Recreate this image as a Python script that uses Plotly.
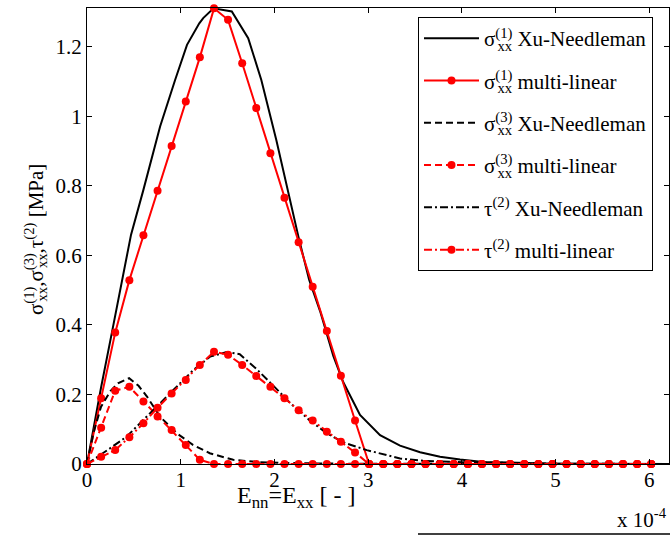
import plotly.graph_objects as go

# ---------------- data (strain in units of 1e-4, stress in MPa) ----------------
x_ml = [0.000, 0.151, 0.301, 0.452, 0.602, 0.753, 0.903, 1.054, 1.204, 1.355,
        1.505, 1.656, 1.806, 1.957, 2.107, 2.258, 2.408, 2.559, 2.709, 2.860,
        3.010, 3.161, 3.311, 3.462, 3.612, 3.763, 3.913, 4.064, 4.214, 4.365,
        4.515, 4.666, 4.816, 4.967, 5.117, 5.268, 5.418, 5.569, 5.719, 5.870, 6.020]

s1_ml = [0, 0.189, 0.378, 0.529, 0.658, 0.786, 0.915, 1.043, 1.170, 1.311,
         1.278, 1.153, 1.024, 0.894, 0.766, 0.638, 0.510, 0.383, 0.254, 0.125,
         0, 0, 0, 0, 0, 0, 0, 0, 0, 0,
         0, 0, 0, 0, 0, 0, 0, 0, 0, 0, 0]

s3_ml = [0, 0.104, 0.211, 0.222, 0.180, 0.137, 0.098, 0.055, 0.012, 0,
         0, 0, 0, 0, 0, 0, 0, 0, 0, 0,
         0, 0, 0, 0, 0, 0, 0, 0, 0, 0,
         0, 0, 0, 0, 0, 0, 0, 0, 0, 0, 0]

t2_ml = [0, 0.021, 0.040, 0.077, 0.117, 0.162, 0.203, 0.242, 0.285, 0.323,
         0.314, 0.285, 0.253, 0.222, 0.189, 0.155, 0.125, 0.093, 0.064, 0.033,
         0, 0, 0, 0, 0, 0, 0, 0, 0, 0,
         0, 0, 0, 0, 0, 0, 0, 0, 0, 0, 0]

x_s1_xn = [0, 0.066, 0.15, 0.264, 0.36, 0.47, 0.601, 0.78, 0.94, 1.067, 1.198,
           1.24, 1.35, 1.545, 1.72, 1.86, 2.02, 2.13, 2.255, 2.37, 2.487, 2.629,
           2.735, 2.913, 3.127, 3.34, 3.554, 3.767, 3.98, 4.226, 4.6, 5.0, 5.5, 6.21]
s1_xn = [0, 0.098, 0.22, 0.376, 0.51, 0.66, 0.788, 0.971, 1.105, 1.206, 1.268,
         1.283, 1.311, 1.302, 1.225, 1.105, 0.932, 0.798, 0.655, 0.53, 0.44, 0.31,
         0.235, 0.141, 0.083, 0.053, 0.034, 0.021, 0.013, 0.006, 0.003, 0.001, 0.0005, 0]

x_s3_xn = [0, 0.07, 0.15, 0.25, 0.33, 0.45, 0.55, 0.64, 0.78, 0.96, 1.13, 1.31,
           1.56, 1.85, 2.3, 3.0, 6.21]
s3_xn = [0, 0.09, 0.165, 0.21, 0.232, 0.247, 0.225, 0.194, 0.136, 0.088, 0.055,
         0.031, 0.012, 0.005, 0.002, 0.0005, 0]

x_t2_xn = [0, 0.067, 0.245, 0.424, 0.601, 0.779, 0.957, 1.134, 1.313, 1.49, 1.63,
           1.81, 2.0, 2.17, 2.37, 2.55, 2.735, 2.985, 3.34, 3.6, 4.0, 4.5, 5.0, 6.21]
t2_xn = [0, 0.012, 0.045, 0.079, 0.127, 0.175, 0.222, 0.27, 0.309, 0.322, 0.316,
         0.273, 0.222, 0.175, 0.127, 0.09, 0.062, 0.04, 0.016, 0.009, 0.005, 0.002,
         0.001, 0]

x_tickvals = [0, 1, 2, 3, 4, 5, 6]
x_ticktext = ["0", "1", "2", "3", "4", "5", "6"]
y_tickvals = [0, 0.2, 0.4, 0.6, 0.8, 1.0, 1.2]
y_ticktext = ["0", "0.2", "0.4", "0.6", "0.8", "1", "1.2"]

# stacked super/subscript: pull the subscript back under the superscript
def sxx(n, back=15):
    return ("σ<sup>(%s<span style='letter-spacing:-%dpx'>)</span></sup><sub>xx</sub>"
            % (n, back))

names = [
    sxx(1) + " Xu-Needleman",
    sxx(1) + " multi-linear",
    sxx(3) + " Xu-Needleman",
    sxx(3) + " multi-linear",
    "τ<sup>(2)</sup> Xu-Needleman",
    "τ<sup>(2)</sup> multi-linear",
]

FONT = "Liberation Serif, Times New Roman, Times, serif"
BLACK = "#000000"
RED = "#ff0000"
DASH = "7px,4px"
DASHDOT = "8px,3px,2px,3px"

fig = go.Figure()

def add(x, y, name, color, dash, markers, grp):
    fig.add_trace(go.Scatter(
        x=x, y=y, name=name, legendgroup=grp,
        mode="lines+markers" if markers else "lines",
        line=dict(color=color, width=2, dash=dash),
        marker=dict(color=color, size=8) if markers else None,
        cliponaxis=False,
    ))

add(x_s1_xn, s1_xn, names[0], BLACK, "solid", False, "g1")
add(x_ml, s1_ml, names[1], RED, "solid", True, "g2")
add(x_s3_xn, s3_xn, names[2], BLACK, DASH, False, "g3")
add(x_ml, s3_ml, names[3], RED, DASH, True, "g4")
add(x_t2_xn, t2_xn, names[4], BLACK, DASHDOT, False, "g5")
add(x_ml, t2_ml, names[5], RED, DASHDOT, True, "g6")

L, R, T, B = 87, 1, 8, 76
W, H = 670, 540
pw = W - L - R
ph = H - T - B

def px2paper_x(px):
    return (px - L) / pw

def px2paper_y(py):
    return (H - B - py) / ph

ytitle = (sxx(1, 15) + "," + sxx(3, 15) + ",τ<sup>(2)</sup> [MPa]")

fig.update_layout(
    width=W, height=H,
    margin=dict(l=L, r=R, t=T, b=B, pad=0),
    paper_bgcolor="white", plot_bgcolor="white",
    font=dict(family=FONT, size=21, color="black"),
    showlegend=True,
    legend=dict(
        x=px2paper_x(418), y=px2paper_y(17), xanchor="left", yanchor="top",
        bgcolor="white", bordercolor="black", borderwidth=1,
        font=dict(family=FONT, size=21, color="black"),
        itemwidth=55, traceorder="grouped", tracegroupgap=12,
    ),
    xaxis=dict(
        range=[0, 6.21], tickvals=x_tickvals, ticktext=x_ticktext,
        showgrid=False, zeroline=False, showline=True, linecolor="black",
        linewidth=1, mirror="ticks", ticks="inside", ticklen=5,
        tickcolor="black", tickfont=dict(family=FONT, size=21),
        ticklabelstandoff=-3,
    ),
    yaxis=dict(
        range=[0, 1.312], tickvals=y_tickvals, ticktext=y_ticktext,
        showgrid=False, zeroline=False, showline=True, linecolor="black",
        linewidth=1, mirror="ticks", ticks="inside", ticklen=5,
        tickcolor="black", tickfont=dict(family=FONT, size=21),
    ),
    annotations=[
        dict(text="E<sub>nn</sub>=E<sub>xx</sub> [ - ]", xref="paper", yref="paper",
             x=px2paper_x(296), y=px2paper_y(497), xanchor="center", yanchor="middle",
             showarrow=False, font=dict(family=FONT, size=24)),
        dict(text=ytitle,
             xref="paper", yref="paper", textangle=-90,
             x=px2paper_x(35), y=px2paper_y(240), xanchor="center", yanchor="middle",
             showarrow=False, font=dict(family=FONT, size=21)),
        dict(text="x 10<sup>-4</sup>", xref="paper", yref="paper",
             x=px2paper_x(669), y=px2paper_y(518), xanchor="right", yanchor="middle",
             showarrow=False, font=dict(family=FONT, size=21)),
    ],
    shapes=[
        dict(type="line", xref="paper", yref="paper",
             x0=px2paper_x(418), x1=px2paper_x(672), y0=px2paper_y(534), y1=px2paper_y(534),
             line=dict(color="black", width=1.5)),
    ],
)

fig.write_html("out.html", config={"displayModeBar": False},
               post_script="document.body.style.margin='0px';")
